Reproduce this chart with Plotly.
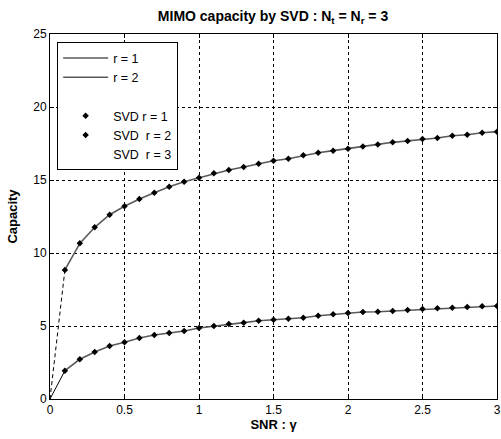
import plotly.graph_objects as go

snr = [round(i * 0.1, 1) for i in range(31)]
cap_low = [0, 1.94, 2.72, 3.22, 3.63, 3.88, 4.18, 4.38, 4.52, 4.66, 4.86,
           5.0, 5.14, 5.23, 5.36, 5.43, 5.5, 5.57, 5.7, 5.8, 5.89,
           5.96, 5.98, 6.03, 6.1, 6.16, 6.22, 6.25, 6.3, 6.35, 6.37]
cap_high = [0, 8.84, 10.66, 11.76, 12.62, 13.2, 13.7, 14.13, 14.54, 14.88, 15.15,
            15.46, 15.68, 15.89, 16.12, 16.32, 16.46, 16.69, 16.87, 17.01, 17.14,
            17.3, 17.44, 17.58, 17.67, 17.8, 17.88, 18.03, 18.1, 18.24, 18.31]

FONT = "Liberation Sans, Arial, sans-serif"
fig = go.Figure()

# main lines
fig.add_trace(go.Scatter(x=snr[1:], y=cap_low[1:], mode="lines", name="r = 1",
                         line=dict(color="#5a5a5a", width=1.6)))
fig.add_trace(go.Scatter(x=snr[1:], y=cap_high[1:], mode="lines", name="r = 2",
                         line=dict(color="#5a5a5a", width=1.6)))
# blank legend row
fig.add_trace(go.Scatter(x=[None], y=[None], mode="lines", name=" ",
                         line=dict(color="white", width=1)))
# first segments
fig.add_trace(go.Scatter(x=snr[:2], y=cap_low[:2], mode="lines", showlegend=False,
                         line=dict(color="black", width=1)))
fig.add_trace(go.Scatter(x=snr[:2], y=cap_high[:2], mode="lines", showlegend=False,
                         line=dict(color="black", width=1, dash="4px,3px")))
# SVD markers
fig.add_trace(go.Scatter(x=snr[1:], y=cap_low[1:], mode="markers", name="SVD r = 1",
                         marker=dict(symbol="diamond", size=5, color="black")))
fig.add_trace(go.Scatter(x=snr[1:], y=cap_high[1:], mode="markers", name="SVD&nbsp; r = 2",
                         marker=dict(symbol="diamond", size=5, color="black")))
fig.add_trace(go.Scatter(x=[None], y=[None], mode="markers", name="SVD&nbsp; r = 3",
                         marker=dict(symbol="diamond", size=5, color="white")))

axis_common = dict(showline=True, linecolor="black", linewidth=1, mirror="ticks",
                   ticks="inside", ticklen=4, tickcolor="black",
                   showgrid=True, gridcolor="black", gridwidth=1, griddash="3px,3px",
                   zeroline=False, automargin=False, ticklabeloverflow="allow",
                   tickfont=dict(family=FONT, size=12, color="black"))

fig.update_xaxes(range=[0, 3], dtick=0.5, tick0=0,
                 title=dict(text="<b>SNR : γ</b>", font=dict(family=FONT, size=13, color="black"),
                            standoff=2),
                 **axis_common)
fig.update_yaxes(range=[0, 25], dtick=5, tick0=0,
                 title=dict(text="<b>Capacity</b>", font=dict(family=FONT, size=13, color="black"),
                            standoff=12),
                 **axis_common)

fig.update_layout(
    width=501, height=439,
    margin=dict(l=50, r=4, t=34, b=40, autoexpand=False),
    paper_bgcolor="white", plot_bgcolor="white",
    title=dict(text="<b>MIMO capacity by SVD : N<sub>t</sub> = N<sub>r</sub> = 3</b>",
               x=0.545, xanchor="center", y=0.975, yanchor="top",
               font=dict(family=FONT, size=14, color="black")),
    legend=dict(x=0.016, y=0.977, xanchor="left", yanchor="top",
                bgcolor="white", bordercolor="black", borderwidth=1,
                font=dict(family=FONT, size=12.5, color="black"),
                itemwidth=45, tracegroupgap=0),
    showlegend=True,
)

fig.write_html("out.html", config={"displayModeBar": False},
               post_script="document.body.style.margin='0';document.body.style.overflow='hidden';")
